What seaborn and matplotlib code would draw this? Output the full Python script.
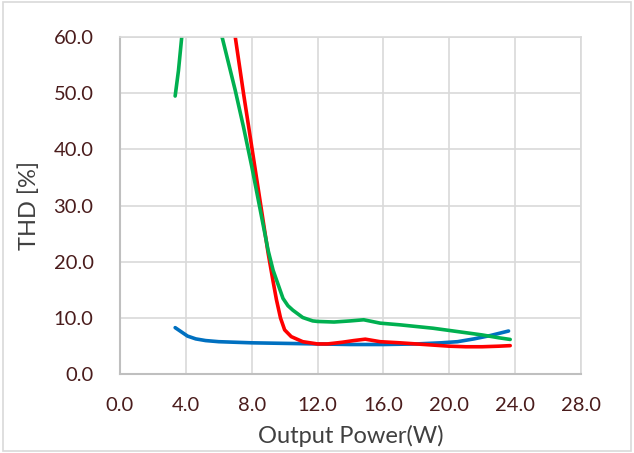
import matplotlib
matplotlib.use("Agg")
import matplotlib.pyplot as plt
import seaborn as sns
import pandas as pd
from matplotlib.patches import Rectangle

blue_x = [3.35, 3.7, 4.1, 4.6, 5.2, 6.0, 8.0, 10.0, 12.0, 14.0, 16.0, 18.0, 19.5, 20.5, 21.5, 22.5, 23.6]
blue_y = [8.3, 7.6, 6.8, 6.3, 6.0, 5.8, 5.6, 5.5, 5.4, 5.3, 5.3, 5.4, 5.6, 5.8, 6.3, 6.9, 7.7]

red_x = [6.5, 7.0, 7.5, 8.0, 8.5, 9.0, 9.3, 9.5, 9.75, 10.0, 10.4, 11.1, 12.0, 12.6, 13.5, 14.2, 14.9, 15.8, 17.0, 18.0, 19.0, 20.0, 21.0, 22.0, 23.0, 23.7]
red_y = [72.0, 60.0, 50.0, 40.5, 31.0, 21.5, 16.5, 13.3, 10.0, 7.9, 6.7, 5.8, 5.4, 5.4, 5.7, 6.0, 6.25, 5.8, 5.6, 5.4, 5.2, 5.0, 4.9, 4.9, 5.0, 5.1]

green_x = [3.35, 3.55, 3.75, 4.2, 5.2, 6.2, 7.0, 7.5, 8.0, 8.5, 9.0, 9.3, 9.6, 9.9, 10.2, 10.5, 11.1, 11.7, 12.0, 13.0, 14.0, 14.8, 15.8, 17.0, 18.0, 19.0, 20.0, 21.0, 22.0, 23.0, 23.7]
green_y = [49.5, 54.0, 60.0, 75.0, 85.0, 60.0, 50.5, 44.0, 37.0, 29.5, 22.0, 18.5, 16.0, 13.5, 12.2, 11.4, 10.1, 9.5, 9.4, 9.3, 9.5, 9.7, 9.1, 8.8, 8.5, 8.2, 7.8, 7.4, 7.0, 6.5, 6.2]

x_ticks = [0, 4, 8, 12, 16, 20, 24, 28]
y_ticks = [0, 10, 20, 30, 40, 50, 60]

sns.set_theme(style="white")
plt.rcParams['font.family'] = ['Lato', 'DejaVu Sans']
plt.rcParams['lines.solid_capstyle'] = 'round'
plt.rcParams['lines.solid_joinstyle'] = 'round'

fig = plt.figure(figsize=(6.34, 4.53), dpi=100)
ax = fig.add_axes([120/634, 1-374.3/453, (581-120)/634, (374.3-37)/453])

for xs, ys, c in [(blue_x, blue_y, "#0070C0"), (red_x, red_y, "#FF0000"), (green_x, green_y, "#00B050")]:
    df = pd.DataFrame({"x": xs, "y": ys})
    sns.lineplot(data=df, x="x", y="y", ax=ax, color=c, linewidth=2.6, sort=False, estimator=None)

ax.set_xlim(0, 28)
ax.set_ylim(0, 60)
ax.set_xticks(x_ticks)
ax.set_yticks(y_ticks)
ax.set_xticklabels([f"{v:.1f}" for v in x_ticks])
ax.set_yticklabels([f"{v:.1f}" for v in y_ticks])
ax.grid(True, color="#d9d9d9", linewidth=1.2)
ax.set_axisbelow(True)
for s in ["top", "right"]:
    ax.spines[s].set_color("#d9d9d9")
    ax.spines[s].set_linewidth(1.2)
for s in ["left", "bottom"]:
    ax.spines[s].set_color("#bfbfbf")
    ax.spines[s].set_linewidth(1.5)
ax.tick_params(axis="both", length=0, labelsize=14.5, labelcolor="#4a1c1c")
ax.tick_params(axis="x", pad=16)
ax.tick_params(axis="y", pad=19)
ax.set_xlabel("Output Power(W)", fontsize=17, color="#404040", labelpad=8)
ax.set_ylabel("THD [%]", fontsize=17, color="#404040", labelpad=10)

fig.patches.append(Rectangle((0.004, 0.004), 0.992, 0.992, transform=fig.transFigure,
                             fill=False, edgecolor="#d9d9d9", linewidth=1.2))

fig.savefig("out.png", dpi=100)
